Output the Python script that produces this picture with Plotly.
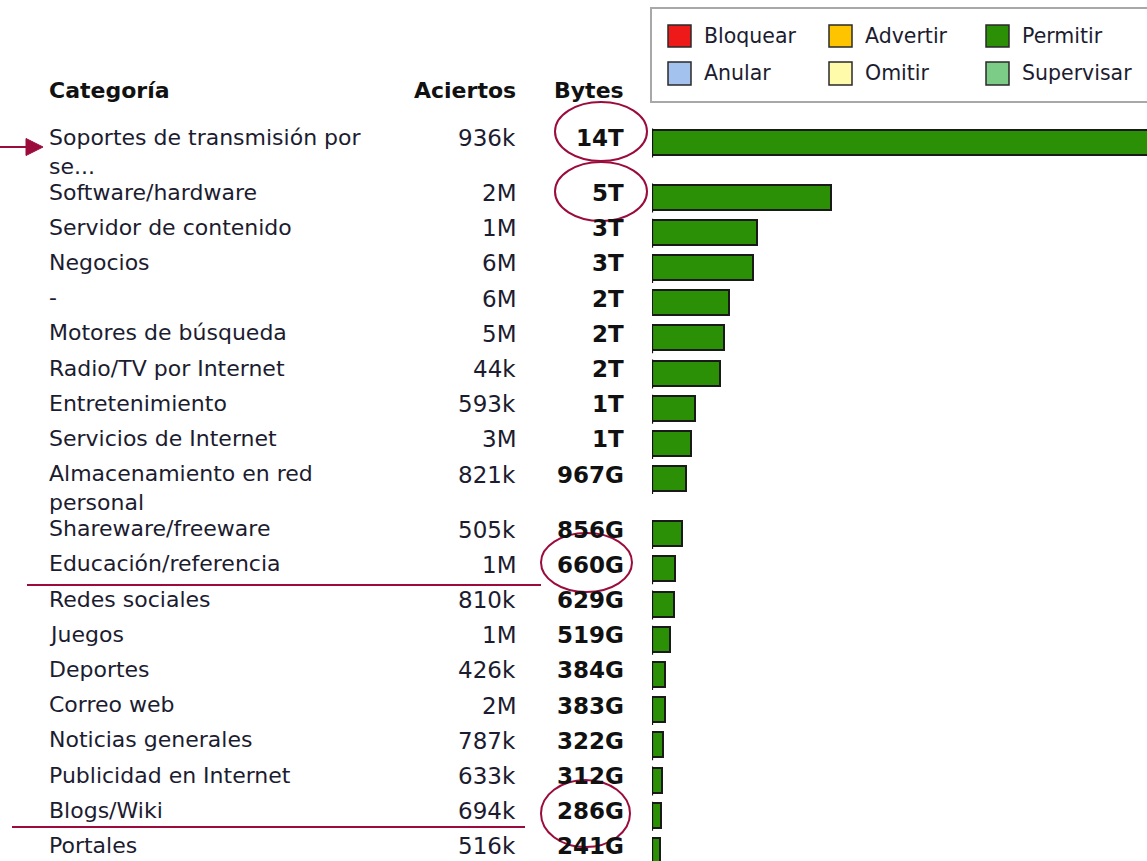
import plotly.graph_objects as go

W, H = 1147, 861

# ---------------- data ----------------
categories = ["Soportes de transmisión por<br>se...", "Software/hardware", "Servidor de contenido",
              "Negocios", "-", "Motores de búsqueda", "Radio/TV por Internet", "Entretenimiento",
              "Servicios de Internet", "Almacenamiento en red<br>personal", "Shareware/freeware",
              "Educación/referencia", "Redes sociales", "Juegos", "Deportes", "Correo web",
              "Noticias generales", "Publicidad en Internet", "Blogs/Wiki", "Portales"]
hits_labels = ["936k", "2M", "1M", "6M", "6M", "5M", "44k", "593k", "3M", "821k", "505k",
               "1M", "810k", "1M", "426k", "2M", "787k", "633k", "694k", "516k"]
bytes_labels = ["14T", "5T", "3T", "3T", "2T", "2T", "2T", "1T", "1T", "967G", "856G",
                "660G", "629G", "519G", "384G", "383G", "322G", "312G", "286G", "241G"]
permitir_tb = [14.0, 5.0, 2.95, 2.83, 2.15, 2.03, 1.92, 1.22, 1.10, 0.967, 0.856,
               0.660, 0.629, 0.519, 0.384, 0.383, 0.322, 0.312, 0.286, 0.241]
bloquear_tb = [None, None, None, None, 0.03, None, None, None, None, None, None,
               None, None, None, None, None, None, None, None, None]
headers = ["Categoría", "Aciertos", "Bytes"]
legend_names = ["Bloquear", "Advertir", "Permitir", "Anular", "Omitir", "Supervisar"]
legend_colors = ["#EE1A1A", "#FFC400", "#2B9005", "#A4C2EE", "#FFFBAA", "#7CCB86"]

# ---------------- layout helpers ----------------
FONT = "DejaVu Sans"
TXT = "#1c1c30"
RED = "#9B0C3C"
GREEN = legend_colors[2]
LBL_SIZE = 22
NUM_SIZE = 23

def px(x):
    return x / W

def py(y):
    return 1 - y / H

# row centres (pixel units on the y axis), derived from label line counts
centers = []
c = 143.0
for cat in categories:
    centers.append(c)
    c += 55.0 if "<br>" in cat else 35.2

fig = go.Figure()

# left tick lines at each bar's base (coloured by the first segment of the bar)
lx, ly = [], []
for cy, blk in zip(centers, bloquear_tb):
    if blk is None:
        lx += [0, 0, None]
        ly += [cy - 14.5, cy + 14.5, None]
fig.add_trace(go.Scatter(x=lx, y=ly, mode="lines", line=dict(color="#111", width=2.2),
                         showlegend=False, hoverinfo="skip"))

fig.add_trace(go.Bar(
    name=legend_names[0], orientation="h", x=bloquear_tb, y=centers, width=25,
    marker=dict(color=legend_colors[0], line=dict(color=legend_colors[0], width=1)),
    showlegend=False, hoverinfo="skip"))
fig.add_trace(go.Bar(
    name=legend_names[2], orientation="h", x=permitir_tb, y=centers, width=25,
    marker=dict(color=GREEN, line=dict(color="#1a1a1a", width=1.6)),
    showlegend=False))

annotations = []
# headers
for text, x, anchor in [(headers[0], 47, "left"), (headers[1], 518, "right"), (headers[2], 626, "right")]:
    annotations.append(dict(x=px(x), y=py(90), xref="paper", yref="paper", text="<b>" + text + "</b>",
                            xanchor=anchor, yanchor="middle", showarrow=False,
                            font=dict(family=FONT, size=LBL_SIZE, color="#111")))

for cat, h, b, cy in zip(categories, hits_labels, bytes_labels, centers):
    ty = cy - 5
    annotations.append(dict(x=px(47), y=ty - 15.5, xref="paper", yref="y", text=cat,
                            xanchor="left", yanchor="top", align="left", showarrow=False,
                            font=dict(family=FONT, size=LBL_SIZE, color=TXT)))
    annotations.append(dict(x=px(518), y=ty, xref="paper", yref="y", text=h,
                            xanchor="right", yanchor="middle", showarrow=False,
                            font=dict(family=FONT, size=NUM_SIZE, color=TXT)))
    annotations.append(dict(x=px(626), y=ty, xref="paper", yref="y", text="<b>" + b + "</b>",
                            xanchor="right", yanchor="middle", showarrow=False,
                            font=dict(family=FONT, size=NUM_SIZE, color="#111")))

shapes = []
# legend box
shapes.append(dict(type="rect", xref="paper", yref="paper", x0=px(651), x1=px(1170), y0=py(8), y1=py(102),
                   line=dict(color="#A8A8A8", width=2), fillcolor="white", layer="below"))
cols = [668, 829, 986]
rows = [(25, 47), (62, 85)]
for i, (name, col) in enumerate(zip(legend_names, legend_colors)):
    cx0 = cols[i % 3]
    ry0, ry1 = rows[i // 3]
    shapes.append(dict(type="rect", xref="paper", yref="paper", x0=px(cx0), x1=px(cx0 + 23),
                       y0=py(ry0), y1=py(ry1), line=dict(color="#2a2a2a", width=1.5), fillcolor=col))
    annotations.append(dict(x=px(cx0 + 34), y=py((ry0 + ry1) / 2), xref="paper", yref="paper", text=name,
                            xanchor="left", yanchor="middle", showarrow=False,
                            font=dict(family=FONT, size=20.5, color=TXT)))

# hand-drawn highlight marks
for (x0, x1, y0, y1) in [(555, 647, 102, 161), (555, 647, 162, 221), (541, 632, 533, 592), (541, 630, 780, 847)]:
    shapes.append(dict(type="circle", xref="paper", yref="paper", x0=px(x0), x1=px(x1),
                       y0=py(y0), y1=py(y1), line=dict(color=RED, width=2)))
shapes.append(dict(type="line", xref="paper", yref="paper", x0=px(27), x1=px(541), y0=py(585), y1=py(585),
                   line=dict(color=RED, width=2)))
shapes.append(dict(type="line", xref="paper", yref="paper", x0=px(12), x1=px(525), y0=py(827), y1=py(827),
                   line=dict(color=RED, width=2)))
shapes.append(dict(type="line", xref="paper", yref="paper", x0=px(0), x1=px(30), y0=py(147), y1=py(147),
                   line=dict(color=RED, width=2)))
shapes.append(dict(type="path", xref="paper", yref="paper",
                   path=f"M {px(26)} {py(138.5)} L {px(43)} {py(147)} L {px(26)} {py(155.5)} Z",
                   fillcolor=RED, line=dict(color=RED, width=1)))

fig.update_layout(
    width=W, height=H, margin=dict(l=0, r=0, t=0, b=0),
    paper_bgcolor="white", plot_bgcolor="white",
    barmode="stack", bargap=0,
    xaxis=dict(domain=[652 / W, 1], range=[0, 13.75], visible=False, fixedrange=True),
    yaxis=dict(domain=[0, 1], range=[H, 0], visible=False, fixedrange=True),
    annotations=annotations, shapes=shapes, showlegend=False,
)

fig.write_html("out.html", config={"displayModeBar": False},
               post_script="document.body.style.margin='0';document.body.style.overflow='hidden';")
